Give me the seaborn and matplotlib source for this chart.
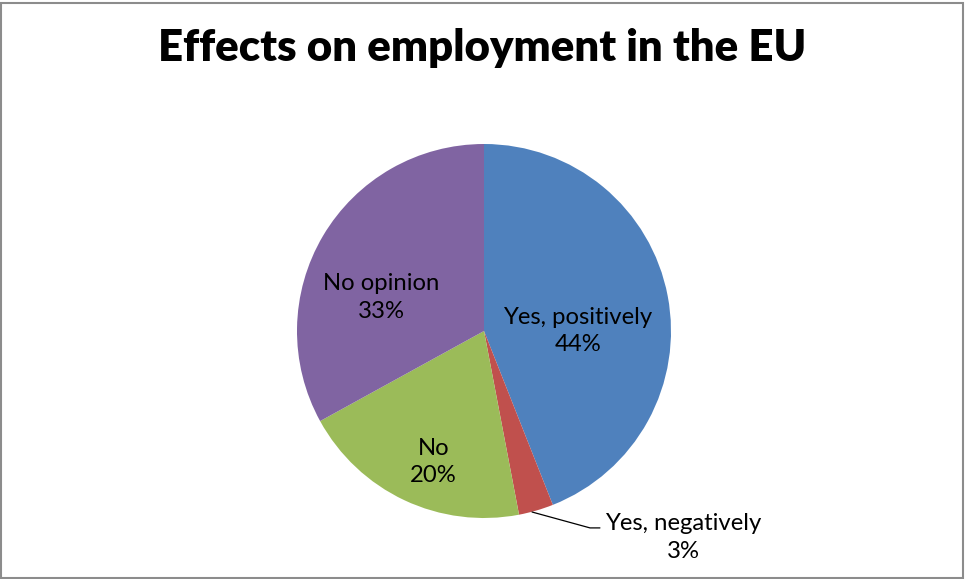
import matplotlib
matplotlib.use("Agg")
import matplotlib.pyplot as plt
import seaborn as sns
from matplotlib.patches import Rectangle

# Survey answers: effects on employment in the EU
categories = ["Yes, positively", "Yes, negatively", "No", "No opinion"]
shares = [44, 3, 20, 33]
colors = ["#4F81BD", "#C0504D", "#9BBB59", "#8064A2"]
title = "Effects on employment in the EU"

sns.set_theme(style="white")
plt.rcParams["font.family"] = ["Lato", "DejaVu Sans"]

W, H = 965, 579
fig = plt.figure(figsize=(W / 100, H / 100), dpi=100)
fig.patch.set_facecolor("white")

# pie centre and radius in pixels
cx, cy_top, r = 484, 331, 187
cy = H - cy_top
ax = fig.add_axes([0, 0, 1, 1])
palette = sns.color_palette(colors)
wedges, _ = ax.pie(shares, colors=palette, startangle=90, counterclock=False,
                   radius=1.0, wedgeprops=dict(linewidth=0))
ax.set_aspect("auto")
ax.set_xlim(-cx / r, (W - cx) / r)
ax.set_ylim(-cy / r, (H - cy) / r)
ax.axis("off")

# data labels inside slices
label_pos = {
    "Yes, positively": (0.503, 0.0),
    "No opinion": (-0.55, 0.18),
    "No": (-0.27, -0.70),
}
fs = 17.2
ls = 1.38
for cat, val in zip(categories, shares):
    if cat in label_pos:
        x, y = label_pos[cat]
        ax.text(x, y, f"{cat}\n{val}%", ha="center", va="center",
                fontsize=fs, color="black", linespacing=ls)

# small slice label with leader line
ax.plot([0.257, 0.567, 0.62], [-0.968, -1.053, -1.053], color="black", lw=0.9)
ax.text(1.064, -1.104, f"{categories[1]}\n{shares[1]}%", ha="center", va="center",
        fontsize=fs, color="black", linespacing=ls)

fig.text(0.5, 1 - 48 / H, title, ha="center", va="center",
         fontsize=31.5, fontweight="heavy", color="black")

# chart-area border
fig.patches.append(Rectangle((1 / W, 1 / H), 1 - 3 / W, 1 - 4 / H,
                             transform=fig.transFigure, fill=False,
                             edgecolor="#8C8C8C", linewidth=1.5))

fig.savefig("out.png", dpi=100, facecolor="white")
